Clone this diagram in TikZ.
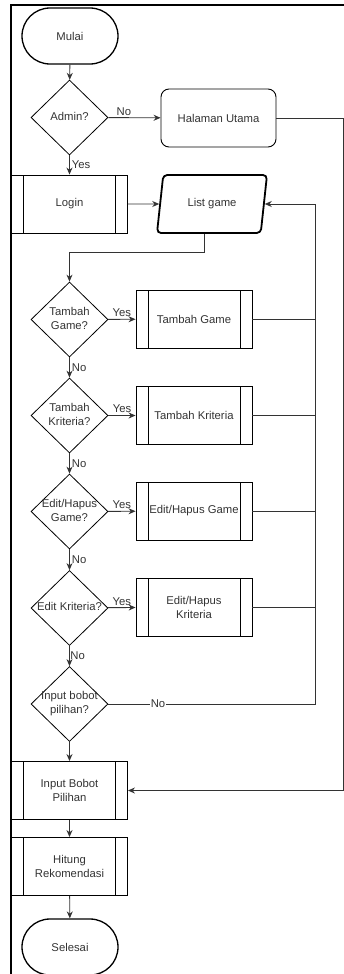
\documentclass[tikz,border=0pt]{standalone}
\usepackage{fontspec}
\setmainfont{Liberation Sans}
\usetikzlibrary{shapes.geometric,arrows.meta}
% text inside a diamond that does not widen it
\newcommand{\dtext}[1]{\makebox[0pt]{\begin{tabular}{@{}c@{}}#1\end{tabular}}}

\begin{document}
\begin{tikzpicture}[x=1pt,y=-1pt,
  font=\fontsize{11.3}{14}\selectfont, text=black!80,
  line/.style={draw=black!80, line width=0.9pt},
  arrow/.style={line, -{Stealth[length=7pt,width=6pt]}},
  lbl/.style={inner sep=2pt},
  terminal/.style={draw, line width=1.3pt, rectangle, rounded corners=28pt, minimum width=96pt, minimum height=56pt},
  decision/.style={draw, line width=0.8pt, diamond, minimum width=77pt, minimum height=75pt, inner sep=0pt},
  page/.style={draw, line width=0.9pt, rectangle, rounded corners=8pt, minimum width=115pt, minimum height=58pt},
  data/.style={draw, line width=1.8pt, trapezium, trapezium left angle=70, trapezium right angle=110,
    trapezium stretches body, minimum width=110pt, minimum height=58pt, rounded corners=4pt},
  process/.style={draw, line width=0.9pt, rectangle, minimum width=116pt, minimum height=58pt, align=center,
    path picture={\draw ([xshift=12pt]path picture bounding box.north west) -- ([xshift=12pt]path picture bounding box.south west)
      ([xshift=-12pt]path picture bounding box.north east) -- ([xshift=-12pt]path picture bounding box.south east);}}
]
\useasboundingbox (0,0) rectangle (344,974);
\draw[line width=1.8pt] (11,974) -- (11,5) -- (344,5);

\node[terminal] (start) at (70,36) {Mulai};
\node[decision] (admin) at (69.5,117.5) {\dtext{Admin?}};
\node[page] (home) at (218.5,118) {Halaman Utama};
\node[process] (login) at (69.5,204) {Login};
\node[data] (list) at (212,204) {List game};

\node[decision] (q1) at (69.5,319.5) {\dtext{Tambah\\Game?}};
\node[process] (p1) at (194,319) {Tambah Game};
\node[decision] (q2) at (69.5,415.5) {\dtext{Tambah\\Kriteria?}};
\node[process] (p2) at (194,415.5) {Tambah Kriteria};
\node[decision] (q3) at (69.5,511.5) {\dtext{Edit/Hapus\\Game?}};
\node[process] (p3) at (194,511) {Edit/Hapus Game};
\node[decision] (q4) at (69.5,608) {\dtext{Edit Kriteria?}};
\node[process] (p4) at (194,607) {Edit/Hapus\\Kriteria};
\node[decision] (q5) at (69.5,704) {\dtext{Input bobot\\pilihan?}};

\node[process] (input) at (69.5,790.5) {Input Bobot\\Pilihan};
\node[process] (calc) at (69.5,866.5) {Hitung\\Rekomendasi};
\node[terminal] (stop) at (70,947) {Selesai};

\coordinate (rtop) at (343,118);
\coordinate (bend) at (204,252);
\coordinate (rail) at (315,704);

\draw[arrow] (start) -- (admin);
\draw[arrow] (admin) -- node[lbl, above, pos=0.3] {No} (home);
\draw[arrow] (admin) -- node[lbl, right] {Yes} (login);
\draw[arrow] (home) -- (rtop) |- (input);
\draw[arrow] (login) -- (list);
\draw[arrow] (list.south -| bend) -- (bend) -| (q1);

\draw[arrow] (q1) -- node[lbl, above] {Yes} (p1);
\draw[arrow] (q2) -- node[lbl, above] {Yes} (p2);
\draw[arrow] (q3) -- node[lbl, above] {Yes} (p3);
\draw[arrow] (q4) -- node[lbl, above] {Yes} (p4);
\draw[arrow] (q1) -- node[lbl, right] {No} (q2);
\draw[arrow] (q2) -- node[lbl, right] {No} (q3);
\draw[arrow] (q3) -- node[lbl, right] {No} (q4);
\draw[arrow] (q4) -- node[lbl, right, inner sep=0.5pt] {No} (q5);

\draw[line] (p1) -- (p1 -| rail);
\draw[line] (p2) -- (p2 -| rail);
\draw[line] (p3) -- (p3 -| rail);
\draw[line] (p4) -- (p4 -| rail);
\draw[arrow] (q5) -- node[lbl, fill=white, inner sep=1pt, pos=0.24] {No} (rail) |- (list);

\draw[arrow] (q5) -- (input);
\draw[arrow] (input) -- (calc);
\draw[arrow] (calc) -- (stop);
\end{tikzpicture}
\end{document}
